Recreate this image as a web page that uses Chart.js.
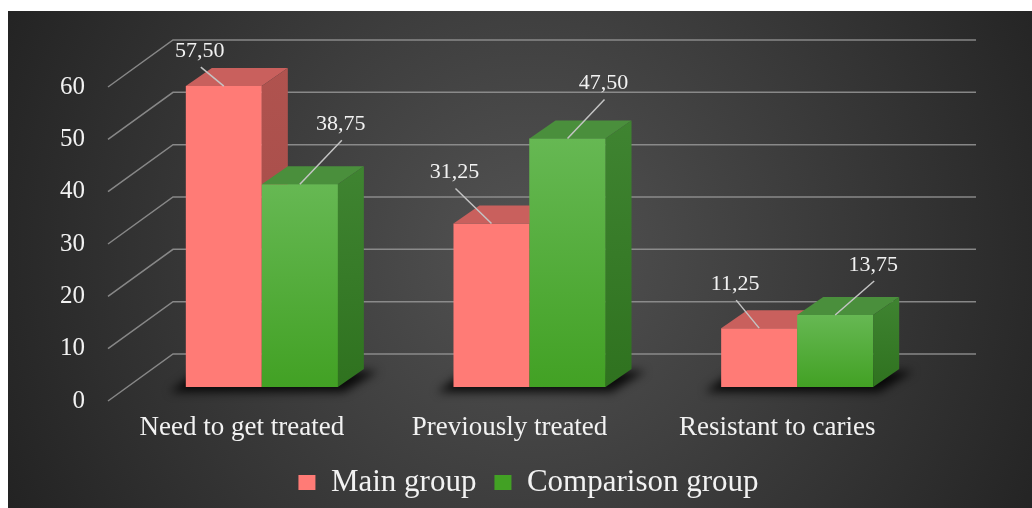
<!DOCTYPE html>
<html>
<head>
<meta charset="utf-8">
<script src="https://cdn.jsdelivr.net/npm/chart.js@4.4.1/dist/chart.umd.min.js"></script>
<style>
  html, body { margin: 0; padding: 0; background: #fff; }
  #wrap { width: 1032px; height: 508px; }
</style>
</head>
<body>
<div id="wrap"><canvas id="chart"></canvas></div>
<script>
// chart data
const categories = ['Need to get treated', 'Previously treated', 'Resistant to caries'];
const seriesNames = ['Main group', 'Comparison group'];
const mainGroup = [57.50, 31.25, 11.25];
const comparisonGroup = [38.75, 47.50, 13.75];
const yTicks = [0, 10, 20, 30, 40, 50, 60];
const yTop = 60;

// where each value label sits, relative to the front-top centre of its bar (px)
const mainLabelPos = [[-24, -35], [-37, -51], [-24, -44]];
const compLabelPos = [[41, -60], [36, -55], [38, -50]];

const SERIF = '"Liberation Serif", "Times New Roman", serif';
const TEXT = '#f2f2f2';

// fake 3d: the chart area is the front plane of the bars
const UNIT = 314 / yTop;          // px per unit on the bar plane
const FLOOR = 18 / UNIT;          // room under zero for the floor shadow
const LABEL_SHIFT = 14 / UNIT;    // the tick labels sit 14px lower than the bar plane
const DEPTH = [26, -18];          // depth of one bar
const WALL = [45, -33];           // back wall, relative to the bar plane
const SIDE = [-20, 14];           // front end of the side wall lines (the label plane)

const fmt = v => v.toFixed(2).replace('.', ',');

function greenFront(c) {
  if (c.type !== 'data') return '#45a82b';
  const y = c.chart.scales.y;
  const t = y ? y.getPixelForValue(c.raw) : NaN;
  const b = y ? y.getPixelForValue(0) : NaN;
  if (!isFinite(t) || !isFinite(b) || t === b) return '#4fae36';
  const g = c.chart.ctx.createLinearGradient(0, t, 0, b);
  g.addColorStop(0, '#66b853');
  g.addColorStop(1, '#42a124');
  return g;
}

function poly(ctx, pts, fill) {
  ctx.beginPath();
  ctx.moveTo(pts[0][0], pts[0][1]);
  for (let i = 1; i < pts.length; i++) ctx.lineTo(pts[i][0], pts[i][1]);
  ctx.closePath();
  ctx.fillStyle = fill;
  ctx.fill();
}

// top and side faces of one bar element
function drawBox(ctx, el, topCol, sideA, sideB) {
  const l = el.x - el.width / 2, r = el.x + el.width / 2;
  const t = el.y, b = el.base;
  const [dx, dy] = DEPTH;
  poly(ctx, [[l, t], [r, t], [r + dx, t + dy], [l + dx, t + dy]], topCol);
  const g = ctx.createLinearGradient(0, t + dy, 0, b);
  g.addColorStop(0, sideA);
  g.addColorStop(1, sideB);
  poly(ctx, [[r, t], [r + dx, t + dy], [r + dx, b + dy], [r, b]], g);
}

const bars3d = {
  id: 'bars3d',
  beforeDraw(chart) {
    const { ctx, width, height } = chart;
    ctx.save();
    ctx.fillStyle = '#fff';
    ctx.fillRect(0, 0, width, height);
    const g = ctx.createRadialGradient(530, 250, 0, 530, 250, 640);
    g.addColorStop(0, '#535353');
    g.addColorStop(1, '#1e1e1e');
    ctx.fillStyle = g;
    ctx.fillRect(8, 11, width - 8, height - 11);
    ctx.restore();
  },
  beforeDatasetsDraw(chart) {
    const { ctx, chartArea: a, scales: { y, yLab } } = chart;
    ctx.save();
    // back wall grid + side wall lines
    ctx.strokeStyle = 'rgba(150,150,150,0.85)';
    ctx.lineWidth = 1.5;
    yLab.ticks.forEach(t => {
      const p = y.getPixelForValue(t.value);
      ctx.beginPath();
      ctx.moveTo(a.left + SIDE[0], p + SIDE[1]);
      ctx.lineTo(a.left + WALL[0], p + WALL[1]);
      ctx.lineTo(a.right + WALL[0], p + WALL[1]);
      ctx.stroke();
    });
    // floor shadow under each group
    const m0 = chart.getDatasetMeta(0), m1 = chart.getDatasetMeta(1);
    ctx.filter = 'blur(5px)';
    m0.data.forEach((el, i) => {
      const x0 = el.x - el.width / 2;
      const e1 = m1.data[i];
      const x1 = e1.x + e1.width / 2;
      const b = el.base;
      poly(ctx, [[x0 - 16, b + 5], [x1 + 6, b + 5], [x1 + DEPTH[0] + 14, b + DEPTH[1] + 2], [x0 + DEPTH[0] - 14, b + DEPTH[1] + 2]], 'rgba(0,0,0,0.85)');
    });
    ctx.restore();
  },
  afterDatasetsDraw(chart) {
    const { ctx } = chart;
    const m0 = chart.getDatasetMeta(0), m1 = chart.getDatasetMeta(1);
    ctx.save();
    m0.data.forEach((el, i) => {
      drawBox(ctx, el, '#c9605d', '#b0534f', '#a14a46');
      m1.data[i].draw(ctx, chart.chartArea);
      drawBox(ctx, m1.data[i], '#4a8f3c', '#3f8431', '#2f721f');
    });
    // value labels with leader lines
    ctx.font = '22px ' + SERIF;
    ctx.textAlign = 'center';
    ctx.textBaseline = 'middle';
    [[m0, mainGroup, mainLabelPos], [m1, comparisonGroup, compLabelPos]].forEach(([meta, vals, pos]) => {
      meta.data.forEach((el, i) => {
        const lx = el.x + pos[i][0], ly = el.y + pos[i][1];
        ctx.strokeStyle = '#c4c4c4';
        ctx.lineWidth = 1.5;
        ctx.beginPath();
        ctx.moveTo(lx + 1, ly + 16);
        ctx.lineTo(el.x, el.y);
        ctx.stroke();
        ctx.fillStyle = TEXT;
        ctx.fillText(fmt(vals[i]), lx, ly);
      });
    });
    ctx.restore();
  }
};

new Chart(document.getElementById('chart'), {
  type: 'bar',
  data: {
    labels: categories,
    datasets: [
      { label: seriesNames[0], data: mainGroup, backgroundColor: '#ff7b76', borderWidth: 0,
        categoryPercentage: 0.568, barPercentage: 1 },
      { label: seriesNames[1], data: comparisonGroup, backgroundColor: greenFront, borderWidth: 0,
        categoryPercentage: 0.568, barPercentage: 1 }
    ]
  },
  options: {
    responsive: true,
    maintainAspectRatio: false,
    animation: false,
    layout: { padding: { top: 73, bottom: 0, left: 25, right: 0 } },
    plugins: {
      tooltip: { enabled: false },
      legend: {
        position: 'bottom',
        labels: { color: TEXT, font: { family: SERIF, size: 31 }, boxWidth: 17, boxHeight: 15, padding: 18 }
      }
    },
    scales: {
      x: {
        grid: { display: false, drawTicks: false }, border: { display: false },
        ticks: { color: TEXT, font: { family: SERIF, size: 27 }, padding: 7, maxRotation: 0, labelOffset: SIDE[0] },
        afterFit: s => { s.height = 44; }
      },
      y: {
        position: 'right', min: -FLOOR, max: yTop, bounds: 'data',
        grid: { display: false, drawTicks: false }, border: { display: false }, ticks: { display: false },
        afterFit: s => { s.width = 101; }
      },
      yLab: {
        axis: 'y', position: 'left', min: -FLOOR + LABEL_SHIFT, max: yTop + LABEL_SHIFT, bounds: 'data',
        grid: { display: false, drawTicks: false }, border: { display: false },
        ticks: { padding: 43, color: TEXT, font: { family: SERIF, size: 25 } },
        afterBuildTicks: s => { s.ticks = yTicks.map(v => ({ value: v })); },
        afterFit: s => { s.width = 103; }
      }
    }
  },
  plugins: [bars3d]
});
</script>
</body>
</html>
